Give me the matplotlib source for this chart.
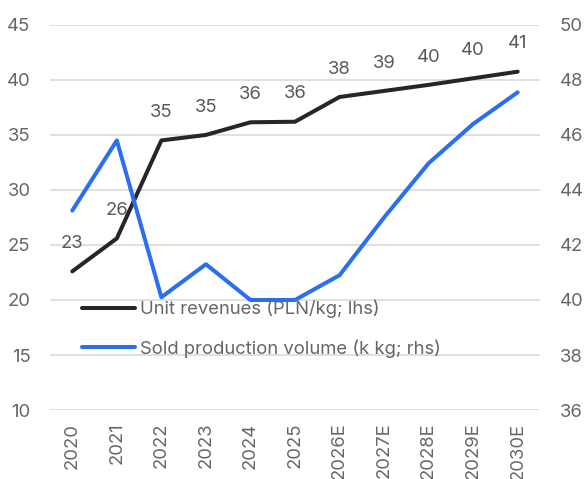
import matplotlib

matplotlib.use("Agg")
import matplotlib.pyplot as plt

plt.rcParams["font.family"] = ["Inter", "DejaVu Sans"]

years = ["2020", "2021", "2022", "2023", "2024", "2025",
         "2026E", "2027E", "2028E", "2029E", "2030E"]
unit_revenues = [22.6, 25.6, 34.5, 35.0, 36.15, 36.2, 38.45, 39.0, 39.55, 40.15, 40.75]
revenue_labels = ["23", "26", "35", "35", "36", "36", "38", "39", "40", "40", "41"]
sold_volume = [43.25, 45.8, 40.1, 41.3, 40.0, 40.0, 40.9, 43.0, 44.97, 46.4, 47.55]

BLACK = "#262626"
BLUE = "#2A6FEE"
TEXT = "#666666"
GRID = "#DDDDDD"
FS = 13.3

fig = plt.figure(figsize=(5.85, 4.79), dpi=100)
ax = fig.add_axes([0.0855, 0.144, 0.8375, 0.804])
ax2 = ax.twinx()

x = list(range(len(years)))

# gridlines follow the left axis
ax.set_ylim(10, 45)
ax.set_yticks(range(10, 46, 5))
ax.yaxis.grid(True, color=GRID, linewidth=1.3)
ax.set_axisbelow(True)

ax2.set_ylim(36, 50)
ax2.set_yticks(range(36, 51, 2))

ax.set_xlim(-0.5, len(years) - 0.5)
ax.set_xticks(x)
ax.set_xticklabels(years, rotation=90)

line1, = ax.plot(x, unit_revenues, color=BLACK, linewidth=2.9, zorder=3,
                 solid_joinstyle="round", solid_capstyle="round",
                 label="Unit revenues (PLN/kg; lhs)")
line2, = ax2.plot(x, sold_volume, color=BLUE, linewidth=2.9, zorder=3,
                  solid_joinstyle="round", solid_capstyle="round",
                  label="Sold production volume (k kg; rhs)")

for xi, v, lab in zip(x, unit_revenues, revenue_labels):
    ax.annotate(lab, (xi, v), xytext=(0, 20), textcoords="offset points",
                ha="center", va="center", fontsize=FS, color="#595959")

for a in (ax, ax2):
    for s in a.spines.values():
        s.set_visible(False)
    a.tick_params(length=0, labelsize=FS, labelcolor=TEXT)
ax.tick_params(axis="y", pad=14)
ax2.tick_params(axis="y", pad=14)
ax.tick_params(axis="x", pad=9)

leg = ax2.legend(handles=[line1, line2], loc="upper left",
                 bbox_to_anchor=(0.065, 0.287), frameon=False,
                 borderpad=0, borderaxespad=0, handlelength=2.85,
                 handletextpad=0.3, labelspacing=1.15, fontsize=FS)
for t in leg.get_texts():
    t.set_color(TEXT)

fig.savefig("out.png", dpi=100)
